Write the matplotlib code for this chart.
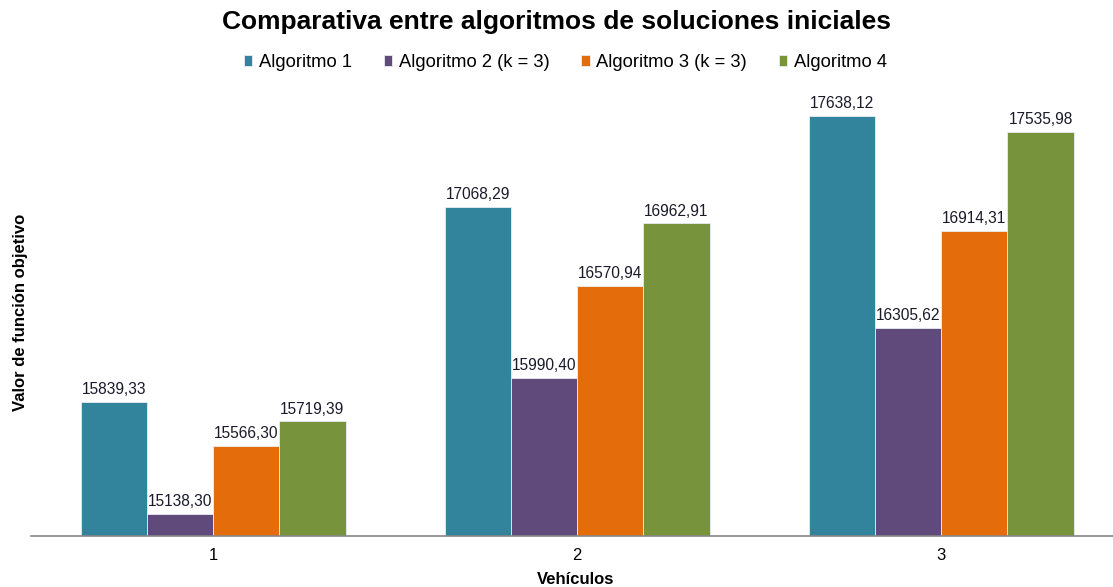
import matplotlib
matplotlib.use("Agg")
import matplotlib.pyplot as plt
import numpy as np

plt.rcParams['font.family'] = ['Liberation Sans', 'DejaVu Sans']

categories = ["1", "2", "3"]
series_names = ["Algoritmo 1", "Algoritmo 2 (k = 3)", "Algoritmo 3 (k = 3)", "Algoritmo 4"]
alg1 = [15839.33, 17068.29, 17638.12]
alg2 = [15138.30, 15990.40, 16305.62]
alg3 = [15566.30, 16570.94, 16914.31]
alg4 = [15719.39, 16962.91, 17535.98]
colors = ["#31849B", "#604A7B", "#E46C0A", "#77933C"]

fig = plt.figure(figsize=(11.13, 5.87), dpi=100)
ax = fig.add_axes([0.028, 0.087, 0.978, 0.814])

x = np.arange(len(categories))
w = 0.1818
for i, (vals, name, c) in enumerate(zip([alg1, alg2, alg3, alg4], series_names, colors)):
    pos = x + (i - 1.5) * w
    ax.bar(pos, vals, width=w, color=c, label=name, edgecolor="#e8eef0", linewidth=0.6)
    for p, v in zip(pos, vals):
        ax.text(p, v + 30, f"{v:.2f}".replace(".", ","), ha="center", va="bottom",
                fontsize=11.2, color="#1a1a2a")

ax.set_ylim(15000, 18000)
ax.set_xlim(-0.5, 2.49)
ax.set_xticks(x)
ax.set_xticklabels(categories, fontsize=12)
ax.tick_params(axis="x", length=0, pad=9)
ax.set_yticks([])
for s in ["top", "right", "left"]:
    ax.spines[s].set_visible(False)
ax.spines["bottom"].set_color("#888888")
ax.spines["bottom"].set_linewidth(1.2)

ax.set_xlabel("Vehículos", fontsize=12, fontweight="bold", labelpad=6)
ax.set_ylabel("Valor de función objetivo", fontsize=12, fontweight="bold")
ax.yaxis.set_label_coords(-0.003, 0.467)

fig.suptitle("Comparativa entre algoritmos de soluciones iniciales", fontsize=19,
             fontweight="bold", y=0.983)
fig.legend(loc="center", bbox_to_anchor=(0.508, 0.893), ncol=4, frameon=False,
           fontsize=13.2, handlelength=0.45, handleheight=0.55, handletextpad=0.35,
           columnspacing=1.75)

fig.savefig("out.png", dpi=100)
